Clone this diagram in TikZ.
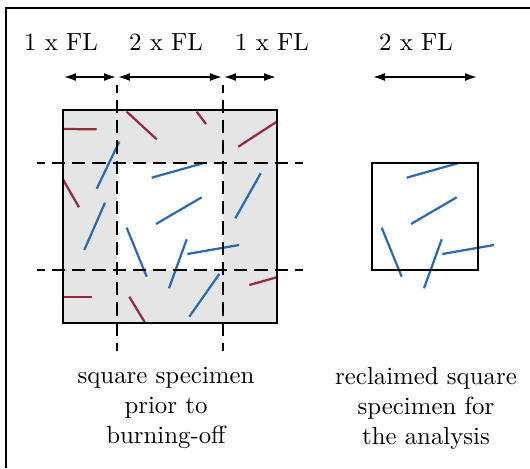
\documentclass[tikz,border=0pt]{standalone}
\usetikzlibrary{arrows.meta}
\definecolor{fibred}{RGB}{150,42,62}
\definecolor{fibblue}{RGB}{45,105,175}
\definecolor{specshade}{RGB}{229,229,229}

\begin{document}
\begin{tikzpicture}[x=.403pt,y=-.403pt,
    fibre/.style={line width=.9pt},
    cutline/.style={black,line width=1pt,dash pattern=on 5.34pt off 2.82pt,dash phase=2.12pt},
    dimline/.style={{Latex[length=5.2pt,width=3.2pt]}-{Latex[length=5.2pt,width=3.2pt]},line width=1pt},
    dimtext/.style={inner sep=0pt,anchor=base},
    captext/.style={inner sep=0pt,anchor=north,align=center}]
  \useasboundingbox (0,0) rectangle (530,468);
  \draw[line width=1.2pt] (530,8) -- (6,8) -- (6,468);
  \coordinate (sq-nw) at (63,110);
  \coordinate (sq-se) at (277,323);
  \coordinate (in-nw) at (117,163);
  \coordinate (in-se) at (223,270);
  \fill[specshade,even odd rule] (sq-nw) rectangle (sq-se) (in-nw) rectangle (in-se);
  % Fasern am Rand: rot abgeschnitten, blau ragt hinein
  \foreach \xa/\ya/\xb/\yb in {63.3/129/96.7/129.3,126.7/111.7/156.7/139.3,
      196.7/111.7/206/124,276.7/121.7/238.3/146.7,63.3/180/79/207.3,
      63.3/296.7/91.7/296.7,129.3/296.7/145/322.7,276.7/277.3/249.3/285}
    \draw[fibre,fibred] (\xa,\ya) -- (\xb,\yb);
  \foreach \xa/\ya/\xb/\yb in {119.3/141.7/96.7/188.7,105/202.7/84.3/250,
      260.7/173.3/235.3/218.3,219.3/274/189.3/316.7}
    \draw[fibre,fibblue] (\xa,\ya) -- (\xb,\yb);
  \foreach \shiftx in {0,255}{
    \begin{scope}[shift={(\shiftx,0)}]
      \foreach \xa/\ya/\xb/\yb in {151.7/177.7/202.7/163.3,156/224/201.7/197.3,
          126.7/227.7/146.7/276.7,186.7/239.3/169/288.3,187.3/254/239/245}
        \draw[fibre,fibblue] (\xa,\ya) -- (\xb,\yb);
    \end{scope}
  }
  \draw[cutline] (117,85) -- (117,351) (223,85) -- (223,351)
    (37,163) -- (303,163) (37,270) -- (303,270);
  \draw[line width=1pt] (sq-nw) rectangle (sq-se);
  \draw[line width=1pt] (372,163) rectangle (478,270);
  \coordinate (d0) at (63,77);
  \coordinate (d1) at (117,77);
  \coordinate (d2) at (223,77);
  \coordinate (d3) at (277,77);
  \coordinate (d4) at (372,77);
  \coordinate (d5) at (478,77);
  \draw[dimline] (d0) -- (d1);
  \draw[dimline] (d1) -- (d2);
  \draw[dimline] (d2) -- (d3);
  \draw[dimline] (d4) -- (d5);
  \node[dimtext] (fl-a) at (61,50) {1 x FL};
  \node[dimtext] (fl-b) at (166,50) {2 x FL};
  \node[dimtext] (fl-c) at (272,50) {1 x FL};
  \node[dimtext] (fl-d) at (416,50) {2 x FL};
  \node[captext] (cap-left) at (166,367) {square specimen\\prior to\\burning-off};
  \node[captext] (cap-right) at (426,367) {reclaimed square\\specimen for\\the analysis};
\end{tikzpicture}
\end{document}
